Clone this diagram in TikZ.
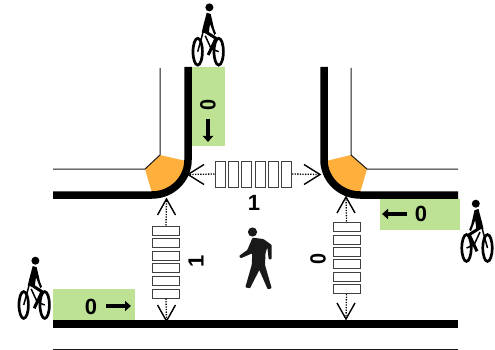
\documentclass[tikz,border=0pt]{standalone}
\usepackage{fontspec}
\setmainfont{Liberation Sans}
\usetikzlibrary{arrows.meta}
\definecolor{laneg}{RGB}{189,226,148}
\definecolor{cornero}{RGB}{255,176,60}
\tikzset{
  x=1pt,y=-1pt,
  curb/.style={line width=7.5pt,black},
  edge/.style={line width=1pt,black!90},
  corner/.style={fill=cornero,draw=none},
  lane/.style={fill=laneg,draw=none},
  count/.style={font=\bfseries\fontsize{22}{22}\selectfont,inner sep=0pt},
  dirarrow/.style={line width=3.5pt,-{Triangle[length=6pt,width=10pt]}},
  stripe/.style={draw=black!75,line width=1pt,fill=white,inner sep=0pt,minimum width=27pt,minimum height=9pt},
  stripev/.style={draw=black!75,line width=1pt,fill=white,inner sep=0pt,minimum width=10pt,minimum height=26pt},
  walk/.style={line width=1.3pt,dash pattern=on 1.3pt off 1.3pt},
  chevron/.style={line width=1.4pt,black,miter limit=10},
  pics/cyclist/.style={code={
    \fill (1.2,-44.3) circle (4);
    \draw[line width=2.7pt] (-10.5,0) ellipse (4.7 and 13.4);
    \draw[line width=2.7pt] (10.5,0) ellipse (4.7 and 13.4);
    \fill (-1.5,-39) -- (2.5,-37.7) -- (5.8,-23.3) -- (7.8,-18.3) -- (6.1,-16.7) -- (1.8,-27.7) -- (0.5,-18.3) -- (-6.5,-19.3) -- (-4.9,-26) -- cycle;
    \draw[line width=3pt] (-5,-21.5) -- (7.8,-13.3) -- (0,3.3);
    \draw[line width=1.5pt] (-10.5,0) -- (-5,-20) (-3,-16) -- (3,-3) -- (10.5,0);
  }}
}
\begin{document}
\begin{tikzpicture}
\useasboundingbox (0,0) rectangle (495,350);
% lane boxes
\fill[lane] (192,67) rectangle (225,145.5);
\fill[lane] (380,199) rectangle (460,230);
\fill[lane] (53,289) rectangle (135,320);
% corner islands
\fill[corner] (160,155) -- (186,161) .. controls (183,180) and (170,192) .. (152,193) -- (145,169) -- cycle;
\fill[corner] (351,155) -- (367,169) -- (360,193) .. controls (342,192) and (329,180) .. (326,161) -- cycle;
% thin edges
\draw[edge] (160,68) -- (160,155) -- (145,169) -- (53,169);
\draw[edge] (351,68) -- (351,155) -- (367,169) -- (458,169);
\draw[edge] (53,349) -- (458,349);
% curbs
\draw[curb] (53,195) -- (152,195) .. controls (172,195) and (188,179) .. (188,160) -- (188,67);
\draw[curb] (458,195) -- (360,195) .. controls (340,195) and (324,179) .. (324,160) -- (324,67);
\draw[curb] (53,324) -- (458,324);
% horizontal crossing
\foreach \i/\xx in {1/220,2/233,3/246.7,4/260,5/273,6/286.5}
  \node[stripev] (h\i) at (\xx,174) {};
\coordinate (hl) at (188,174.5);
\coordinate (hr) at (320,174.5);
\draw[walk] (h1.west) -- (hl);
\draw[walk] (h6.east) -- (hr);
\draw[chevron] ([shift={(16,-10)}]hl) -- (hl) -- ([shift={(16,10)}]hl);
\draw[chevron] ([shift={(-16,-10)}]hr) -- (hr) -- ([shift={(-16,10)}]hr);
% left crossing
\foreach \i/\yy in {1/230.5,2/243,3/255.5,4/268,5/280.5,6/293.5}
  \node[stripe] (a\i) at (166,\yy) {};
\coordinate (at) at (166.5,199);
\coordinate (ab) at (166.5,321);
\draw[walk] (a1.north) -- (at);
\draw[walk] (a6.south) -- (ab);
\draw[chevron] ([shift={(-9,16)}]at) -- (at) -- ([shift={(9,16)}]at);
\draw[chevron] ([shift={(-9,-16)}]ab) -- (ab) -- ([shift={(9,-16)}]ab);
% right crossing
\foreach \i/\yy in {1/226.5,2/239.5,3/252,4/264,5/276.5,6/289}
  \node[stripe] (b\i) at (346.5,\yy) {};
\coordinate (bt) at (346,197);
\coordinate (bb) at (346,319);
\draw[walk] (b1.north) -- (bt);
\draw[walk] (b6.south) -- (bb);
\draw[chevron] ([shift={(-9,16)}]bt) -- (bt) -- ([shift={(9,16)}]bt);
\draw[chevron] ([shift={(-9,-16)}]bb) -- (bb) -- ([shift={(9,-16)}]bb);
% counts
\node[count,rotate=-90,xscale=.9] (c1) at (208,105) {0};
\node[count] (c2) at (421,214) {0};
\node[count] (c3) at (91,307) {0};
\node[count] (c4) at (254,203) {1};
\node[count,rotate=90] (c5) at (196,261) {1};
\node[count,rotate=90,xscale=.9] (c6) at (318,259) {0};
% direction arrows
\coordinate (d1a) at (208,119); \coordinate (d1b) at (208,142);
\coordinate (d2a) at (407,214); \coordinate (d2b) at (382,214);
\coordinate (d3a) at (106,306); \coordinate (d3b) at (131,306);
\draw[dirarrow] (d1a) -- (d1b);
\draw[dirarrow] (d2a) -- (d2b);
\draw[dirarrow] (d3a) -- (d3b);
% pedestrian
\fill[black!90] (252.5,232) circle (4.6);
\fill[black!90,rounded corners=0.8pt] (252.5,237.7) -- (263.3,239) -- (271.7,245) -- (271.7,259.3) -- (268.7,259.3) -- (267.3,247.3) -- (265.5,253.3) -- (265,265) -- (271.7,288.3) -- (267.7,289.3) -- (259.3,270) -- (250,288.3) -- (245.3,287.3) -- (251.7,265) -- (252.3,253.3) -- (240.7,258.3) -- (239,256) -- (247.3,250) -- cycle;
% cyclists
\pic at (208.2,51.7) {cyclist};
\pic at (34.2,305) {cyclist};
\pic[xscale=-1] at (477,248) {cyclist};
\end{tikzpicture}
\end{document}
